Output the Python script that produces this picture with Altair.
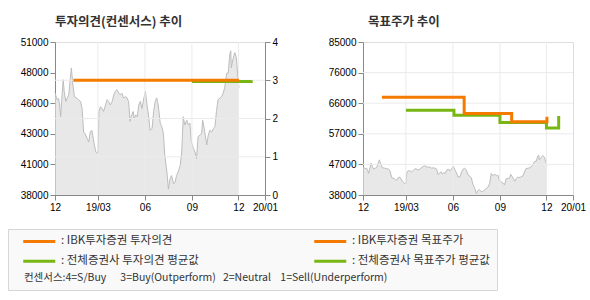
import altair as alt
import pandas as pd

FONT = "Noto Sans CJK KR"
ORANGE = "#f57a00"
GREEN = "#78b614"

# ---- stock price ----
price_dates = [
    "2018-12-07", "2018-12-11", "2018-12-14", "2018-12-16", "2018-12-18", "2018-12-20", "2018-12-23",
    "2018-12-25", "2018-12-28", "2018-12-31", "2019-01-03", "2019-01-06", "2019-01-08", "2019-01-11",
    "2019-01-14", "2019-01-18", "2019-01-22", "2019-01-26", "2019-01-29", "2019-02-01", "2019-02-04",
    "2019-02-08", "2019-02-11", "2019-02-14", "2019-02-17", "2019-02-19", "2019-02-22", "2019-02-25",
    "2019-03-01", "2019-03-03", "2019-03-06", "2019-03-09", "2019-03-12", "2019-03-16", "2019-03-19",
    "2019-03-22", "2019-03-25", "2019-03-29", "2019-04-01", "2019-04-04", "2019-04-07", "2019-04-11",
    "2019-04-14", "2019-04-17", "2019-04-20", "2019-04-24", "2019-04-27", "2019-04-30", "2019-05-03",
    "2019-05-05", "2019-05-09", "2019-05-11", "2019-05-14", "2019-05-17", "2019-05-20", "2019-05-23",
    "2019-05-26", "2019-05-30", "2019-06-02", "2019-06-05", "2019-06-08", "2019-06-11", "2019-06-15",
    "2019-06-18", "2019-06-21", "2019-06-24", "2019-06-27", "2019-07-01", "2019-07-04", "2019-07-07",
    "2019-07-10", "2019-07-14", "2019-07-17", "2019-07-20", "2019-07-23", "2019-07-27", "2019-07-30",
    "2019-08-02", "2019-08-05", "2019-08-09", "2019-08-12", "2019-08-15", "2019-08-18", "2019-08-22",
    "2019-08-25", "2019-08-28", "2019-08-31", "2019-09-04", "2019-09-07", "2019-09-10", "2019-09-13",
    "2019-09-17", "2019-09-20", "2019-09-22", "2019-09-25", "2019-09-27", "2019-09-30", "2019-10-03",
    "2019-10-06", "2019-10-10", "2019-10-13", "2019-10-16", "2019-10-19", "2019-10-22", "2019-10-26",
    "2019-10-29", "2019-11-01", "2019-11-04", "2019-11-08", "2019-11-11", "2019-11-14", "2019-11-16",
    "2019-11-17", "2019-11-20", "2019-11-24", "2019-11-27", "2019-11-30", "2019-12-02",
]
price_values = [
    46700, 46100, 46200, 45650, 44650, 45950, 47800,
    46800, 45950, 46250, 46500, 47900, 48800, 47350,
    46350, 46250, 46100, 45950, 45350, 43350, 43200,
    42800, 42500, 43350, 43500, 43050, 42250, 41650,
    41500, 45100, 45500, 45350, 45100, 45650, 46100,
    45950, 45650, 45950, 46500, 46800, 46950, 46650,
    46500, 46650, 46250, 46350, 46250, 45950, 44250,
    44650, 45100, 44500, 44800, 44650, 45650, 45950,
    45350, 46250, 46800, 45650, 44800, 43500, 43650,
    45100, 45950, 46250, 45650, 44100, 43800, 43250,
    41350, 39950, 38500, 39350, 39650, 38950, 39100,
    39650, 39950, 40500, 41650, 44650, 43950, 44350,
    43950, 44100, 42500, 41950, 41650, 41100, 42950,
    43100, 43250, 44350, 43650, 43100, 42250, 43100,
    43500, 43350, 43650, 43800, 45100, 46100, 46250,
    46350, 46650, 47100, 48350, 48350, 49950, 50250,
    48800, 49500, 50100, 49650, 47950, 47100,
]

# ---- investment opinion (left panel) ----
op_ibk_dates = ["2019-01-12", "2019-12-02"]
op_ibk_values = [3.0, 3.0]
op_avg_dates = ["2019-09-01", "2019-12-26"]
op_avg_values = [2.97, 3.0]

# ---- target price (right panel) ----
tp_ibk_dates = ["2019-01-13", "2019-06-23", "2019-09-24", "2019-12-02"]
tp_ibk_values = [68000, 63000, 60500, 62000]
tp_avg_dates = ["2019-03-01", "2019-06-03", "2019-09-01", "2019-12-01", "2019-12-25"]
tp_avg_values = [64000, 62500, 60300, 58600, 62300]

# legend is laid out column by column
series_names = ["IBK투자증권 투자의견", "전체증권사 투자의견 평균값",
                "IBK투자증권 목표주가", "전체증권사 목표주가 평균값"]

left_price_ticks = [38000, 40600, 43200, 45800, 48400, 51000]
opinion_ticks = [0, 1, 2, 3, 4]
opinion_grid = [1, 2, 3]
right_price_ticks = [38000, 47400, 56800, 66200, 75600, 85000]
right_grid = [47400, 56800, 66200, 75600]
month_grid = ["2019-03-01", "2019-06-01", "2019-09-01", "2019-12-01"]

NB = "\u00a0"
footnote = ("\u200b" + NB * 4 + "컨센서스:4=S/Buy" + NB * 6 + "3=Buy(Outperform)" + NB * 3
            + "2=Neutral" + NB * 4 + "1=Sell(Underperform)")

price_df = pd.DataFrame({"date": pd.to_datetime(price_dates), "price": price_values})
op_ibk_df = pd.DataFrame({"date": pd.to_datetime(op_ibk_dates), "v": op_ibk_values, "series": series_names[0]})
op_avg_df = pd.DataFrame({"date": pd.to_datetime(op_avg_dates), "v": op_avg_values, "series": series_names[1]})
tp_ibk_df = pd.DataFrame({"date": pd.to_datetime(tp_ibk_dates), "v": tp_ibk_values, "series": series_names[2]})
tp_avg_df = pd.DataFrame({"date": pd.to_datetime(tp_avg_dates), "v": tp_avg_values, "series": series_names[3]})
mgrid_df = pd.DataFrame({"date": pd.to_datetime(month_grid)})
ogrid_df = pd.DataFrame({"v": opinion_grid})
rgrid_df = pd.DataFrame({"v": right_grid})

W, H = 210, 153
GRID = "#ebebeb"

x_axis = alt.Axis(
    values=[alt.DateTime(year=2018, month=12, date=7), alt.DateTime(year=2019, month=3, date=1),
            alt.DateTime(year=2019, month=6, date=1), alt.DateTime(year=2019, month=9, date=1),
            alt.DateTime(year=2019, month=12, date=1), alt.DateTime(year=2020, month=1, date=22)],
    labelExpr="month(datum.value)==2 ? '19/03' : (month(datum.value)==0 ? '20/01' : timeFormat(datum.value, '%m'))",
    title=None, grid=False, labelFlush=False, labelBound=False, labelOverlap=False,
)
x_scale = alt.Scale(domain=[alt.DateTime(year=2018, month=12, date=7),
                            alt.DateTime(year=2020, month=1, date=22)])
X = alt.X("date:T", scale=x_scale, axis=x_axis)

legend_def = alt.Legend(
    orient="none", legendX=-47, legendY=187, columns=2, columnPadding=106, rowPadding=7,
    symbolType="M-4,0H4", symbolSize=64, symbolStrokeWidth=3, symbolOffset=19,
    labelOffset=16, labelFont=FONT, labelFontSize=11.5, labelColor="#333333",
    labelExpr="': ' + datum.label", labelLimit=400,
    title=footnote, titleOrient="bottom", titleAnchor="start", titleFontWeight="normal",
    titleFont=FONT, titleFontSize=10.5, titleColor="#333333", titlePadding=5, titleLimit=600,
    fillColor="#f9f9f9", strokeColor="#d6d6d6", padding=6.5,
)
color = alt.Color("series:N", scale=alt.Scale(domain=series_names, range=[ORANGE, GREEN, ORANGE, GREEN]),
                  legend=legend_def)

# ---------- left panel ----------
left_area = alt.Chart(price_df).mark_area(color="#dedede", line={"color": "#bdbdbd", "strokeWidth": 1}).encode(
    x=X,
    y=alt.Y("price:Q", scale=alt.Scale(domain=[38000, 51000], nice=False, zero=False),
            axis=alt.Axis(values=left_price_ticks, labelExpr="format(round(datum.value/1000)*1000, 'd')",
                          title=None, grid=False, labelOverlap=False)),
    y2=alt.datum(38000),
)
op_scale = alt.Scale(domain=[0, 4], nice=False)
op_axis = alt.Axis(orient="right", values=opinion_ticks, title=None, grid=False, labelOverlap=False)
left_vgrid = alt.Chart(mgrid_df).mark_rule(color=GRID, strokeWidth=1).encode(x=X)
left_hgrid = alt.Chart(ogrid_df).mark_rule(color=GRID, strokeWidth=1).encode(
    y=alt.Y("v:Q", scale=op_scale, axis=op_axis))
left_avg = alt.Chart(op_avg_df).mark_line(interpolate="step-after", strokeWidth=3).encode(
    x=X, y=alt.Y("v:Q", scale=op_scale, axis=op_axis), color=color)
left_ibk = alt.Chart(op_ibk_df).mark_line(interpolate="step-after", strokeWidth=3).encode(
    x=X, y=alt.Y("v:Q", scale=op_scale, axis=op_axis), color=color)

left = alt.layer(left_area, alt.layer(left_vgrid, left_hgrid, left_avg, left_ibk)).resolve_scale(
    y="independent").properties(
    width=W, height=H,
    title=alt.TitleParams("투자의견(컨센서스) 추이", anchor="start", frame="group", font=FONT,
                          fontSize=12.5, fontWeight="bold", color="#333333", offset=9))

# ---------- right panel ----------
rp_scale = alt.Scale(domain=[38000, 85000], nice=False, zero=False)
rp_axis = alt.Axis(values=right_price_ticks, labelExpr="format(round(datum.value/1000)*1000, 'd')",
                   title=None, grid=False, labelOverlap=False)
right_area = alt.Chart(price_df).mark_area(color="#dedede", line={"color": "#bdbdbd", "strokeWidth": 1}).encode(
    x=X, y=alt.Y("price:Q", scale=rp_scale, axis=rp_axis), y2=alt.datum(38000),
)
right_vgrid = alt.Chart(mgrid_df).mark_rule(color=GRID, strokeWidth=1).encode(x=X)
right_hgrid = alt.Chart(rgrid_df).mark_rule(color=GRID, strokeWidth=1).encode(
    y=alt.Y("v:Q", scale=rp_scale, axis=rp_axis))
right_avg = alt.Chart(tp_avg_df).mark_line(interpolate="step-after", strokeWidth=3).encode(
    x=X, y=alt.Y("v:Q", scale=rp_scale, axis=rp_axis), color=color)
right_ibk = alt.Chart(tp_ibk_df).mark_line(interpolate="step-after", strokeWidth=3).encode(
    x=X, y=alt.Y("v:Q", scale=rp_scale, axis=rp_axis), color=color)

right = alt.layer(right_area, right_vgrid, right_hgrid, right_avg, right_ibk).properties(
    width=W, height=H,
    title=alt.TitleParams("목표주가 추이", anchor="start", frame="group", font=FONT, dx=5,
                          fontSize=12.5, fontWeight="bold", color="#333333", offset=9))

chart = alt.hconcat(left, right, spacing=48).properties(
    padding={"left": 7, "top": 15, "right": 0, "bottom": 0}
).configure_view(stroke="#a8a8a8", strokeWidth=1).configure_axis(
    labelFont=FONT, labelFontSize=11, labelColor="#555555", domain=False, labelOverlap=False,
    tickColor="#a8a8a8", tickSize=3, labelPadding=2,
).configure(background="white")

chart.save("out.html", embed_options={"renderer": "svg", "actions": False})
